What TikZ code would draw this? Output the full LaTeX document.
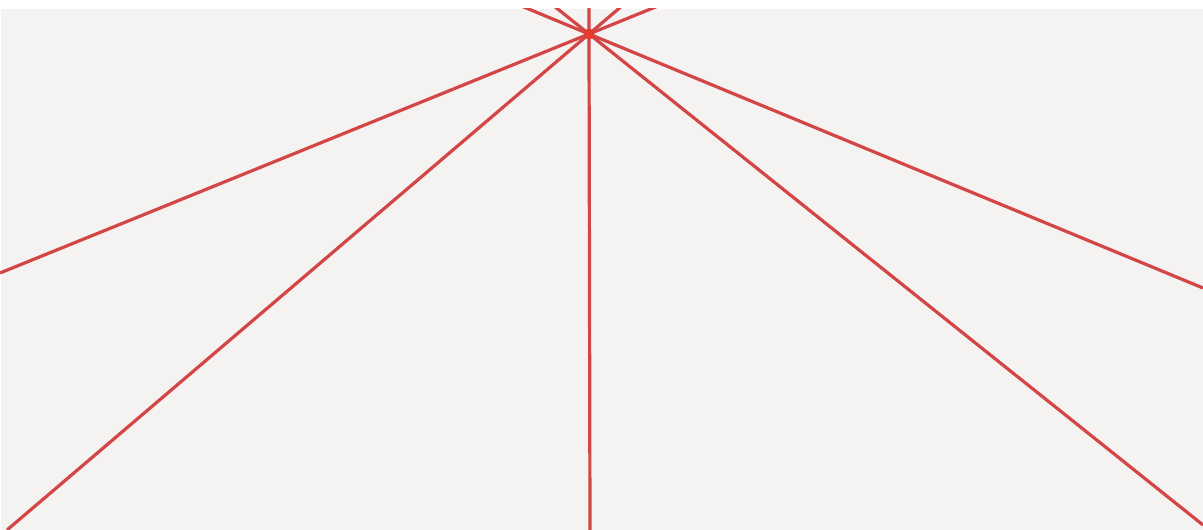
\documentclass[tikz,border=0pt]{standalone}
\usetikzlibrary{calc}
\definecolor{bgc}{HTML}{F5F3F2}
\definecolor{ray}{HTML}{D44546}
\definecolor{hub}{HTML}{EA3A2E}
\tikzset{rayline/.style={draw=ray,line width=3.2bp,line cap=butt}}
\begin{document}
\begin{tikzpicture}[x=1bp,y=-1bp]
\useasboundingbox (0,0) rectangle (1203,530);
\fill[white] (0,0) rectangle (1203,530);
\fill[bgc] (1,9) rectangle (1203,530);
\coordinate (c) at (589,34);
\coordinate (ls) at (0,273);
\coordinate (rs) at (1203,288);
\coordinate (lb) at (7,530);
\coordinate (rb) at (1203,525);
\coordinate (vb) at (590,530);
\begin{scope}
\clip (0,9) rectangle (1203,530);
\draw[rayline] (ls) -- ($(ls)!1.3!(c)$);
\draw[rayline] (rs) -- ($(rs)!1.3!(c)$);
\draw[rayline] (lb) -- ($(lb)!1.2!(c)$);
\draw[rayline] (rb) -- ($(rb)!1.2!(c)$);
\draw[rayline] (vb) -- ($(vb)!1.2!(c)$);
\end{scope}
\fill[hub] (c) circle (5.5);
\end{tikzpicture}
\end{document}
